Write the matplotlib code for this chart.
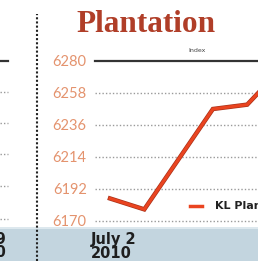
import matplotlib
matplotlib.use("Agg")
import matplotlib.pyplot as plt
from matplotlib.patches import Rectangle
from matplotlib.lines import Line2D

# data
sessions = [0, 1, 3, 4, 5]
kl_plantation = [6185.5, 6178, 6247, 6250, 6275]
yticks = [6170, 6192, 6214, 6236, 6258, 6280]
left_grid_px = [61, 92, 123, 154, 186, 219]

W, H = 258, 261
fig = plt.figure(figsize=(W / 100, H / 100), dpi=100)
fig.patch.set_facecolor("white")

# bottom date band
fig.patches.append(Rectangle((0, 0), 1, (H - 227) / H, transform=fig.transFigure,
                             facecolor="#c3d5df", edgecolor="none", zorder=0))
fig.patches.append(Rectangle((0, (H - 229) / H), 1, 2 / H, transform=fig.transFigure,
                             facecolor="#dde8ee", edgecolor="none", zorder=0))

# previous chart remnants on the left
for i, yp in enumerate(left_grid_px):
    yf = (H - yp) / H
    if i == 0:
        fig.lines.append(Line2D([0, 8 / W], [yf, yf], transform=fig.transFigure,
                                color="#333333", lw=1.6))
    else:
        fig.lines.append(Line2D([0, 8 / W], [yf, yf], transform=fig.transFigure,
                                color="#999999", lw=1, ls=(0, (1, 1.5))))
fig.text(7 / W, (H - 246) / H, "June 29\n2010", ha="right", va="center", fontsize=10.5,
         fontweight="bold", color="#1e1e1e", linespacing=0.9)

# vertical dotted divider
fig.lines.append(Line2D([37 / W, 37 / W], [0, (H - 14) / H], transform=fig.transFigure,
                        color="#222222", lw=1.5, ls=(0, (1, 1))))

# title
fig.text(146 / W, (H - 24) / H, "Plantation", ha="center", va="center",
         fontsize=22.5, fontweight="bold", family="Liberation Serif", color="#b03e28")
fig.text(197 / W, (H - 50) / H, "Index", ha="center", va="center",
         fontsize=4.5, color="#444444")

# main axes (runs past the right edge, like the cropped original)
x0, x1 = 95, 330
ax = fig.add_axes([x0 / W, (H - 221) / H, (x1 - x0) / W, 160 / H])
ax.patch.set_visible(False)
px_per_step = 34.3
ax.set_xlim(-(110 - x0) / px_per_step, (x1 - 110) / px_per_step)
ax.set_ylim(6170, 6280)
for s in ax.spines.values():
    s.set_visible(False)
ax.set_xticks([])
ax.set_yticks(yticks)
ax.tick_params(axis="y", length=0, pad=6, labelsize=10.5, labelcolor="#e4936e")
for lab in ax.get_yticklabels():
    lab.set_family("Lato")

for v in yticks:
    if v == 6280:
        ax.axhline(v, color="#333333", lw=1.6, clip_on=False, zorder=1)
    else:
        ax.axhline(v, color="#9a9a9a", lw=1, ls=(0, (1, 1.5)), clip_on=False, zorder=1)

ax.plot(sessions, kl_plantation, color="#a8321a", lw=3.2, zorder=3,
        solid_joinstyle="miter")
ax.plot(sessions, kl_plantation, color="#ea4420", lw=2.2, zorder=4,
        solid_joinstyle="miter")

# legend
fig.lines.append(Line2D([190 / W, 202 / W], [(H - 206) / H] * 2, transform=fig.transFigure,
                        color="#ea4420", lw=2.5))
fig.text(215 / W, (H - 206) / H, "KL Plantation", ha="left", va="center",
         fontsize=8, fontweight="bold", color="#222222")

# date label
fig.text(91 / W, (H - 246.5) / H, "July 2\n2010", ha="left", va="center", fontsize=10.5,
         fontweight="bold", color="#1e1e1e", linespacing=0.9)

fig.savefig("out.png", dpi=100)
